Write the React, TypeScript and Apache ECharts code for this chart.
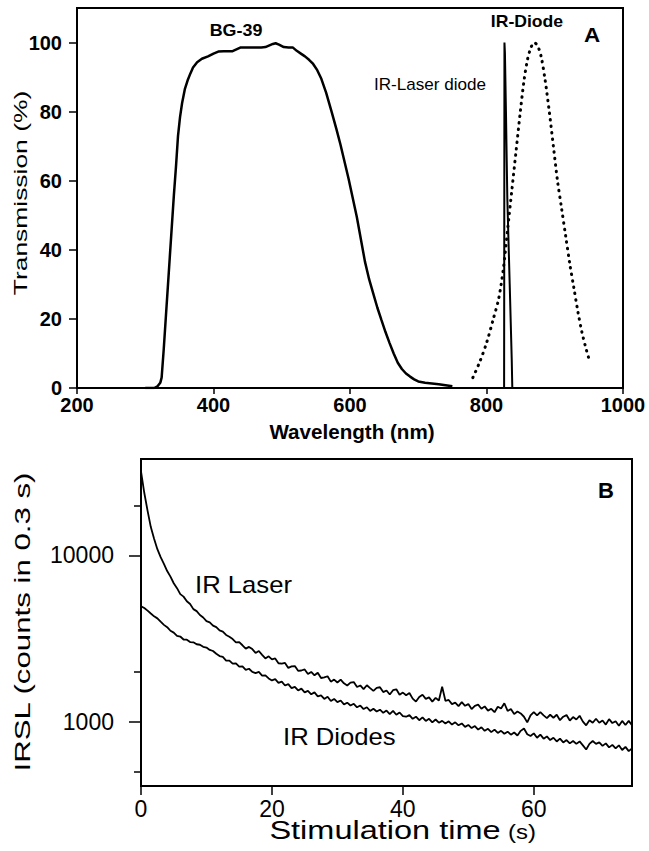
import React, { useEffect, useRef } from 'react';
import * as echarts from 'echarts';

const FONT = '"Liberation Sans", Arial, Helvetica, sans-serif';

// ---------- Panel A: transmission spectra ----------
const wlTicks = [200, 400, 600, 800, 1000];
const transTicks = [0, 20, 40, 60, 80, 100];

const bgWl = [300, 313, 318, 322, 324, 327, 330, 333, 336, 339, 342, 345, 348, 351, 354, 358, 362, 366, 370, 376, 383, 392, 400, 407, 415, 428, 440, 450, 460, 470, 476, 482, 487, 491, 496, 503, 510, 516, 522, 528, 534, 540, 546, 552, 558, 565, 573, 580, 586, 592, 598, 604, 610, 616, 622, 628, 634, 640, 646, 652, 658, 664, 670, 676, 682, 688, 694, 700, 710, 720, 730, 740, 750];
const bgT = [0, 0, 0.5, 1.5, 3, 11, 20, 29, 38, 47, 56, 64, 73, 78.5, 82.5, 86.5, 89, 91, 92.8, 94.3, 95.3, 96, 96.8, 97.4, 97.5, 97.5, 98.6, 98.6, 98.6, 98.6, 98.7, 99.2, 99.6, 99.8, 99.4, 98.7, 98.6, 98.6, 97.6, 96.8, 96, 95, 93.8, 92, 89.5, 85.5, 80, 75, 70.5, 65.5, 60.5, 55, 49.5, 43, 36.5, 31.5, 27.4, 23.3, 19.7, 16.2, 13, 10, 7.3, 5.5, 4.2, 3.3, 2.5, 1.9, 1.5, 1.3, 1.1, 0.8, 0.5];

const laserWl = [825.8, 826.3, 827, 828.5, 830.5, 834, 837, 837.8];
const laserT = [0, 100, 97, 80, 55, 30, 8, 0];

const ledWl = [780, 790, 800, 810, 818, 825, 831, 837, 843, 849, 855, 860, 865, 870, 875, 880, 886, 892, 898, 904, 910, 916, 922, 928, 934, 940, 945, 950];
const ledT = [3, 7.5, 13, 20, 26, 35, 46, 57, 68, 79, 89, 95, 98.5, 100, 99, 96, 89, 80, 70, 60, 52, 44, 36, 29, 22, 16, 12, 8.5];

// ---------- Panel B: IRSL decay curves ----------
const timeTicks = [0, 20, 40, 60];
const irslMajor = [1000, 10000];
const irslMinor = [500, 2000, 20000];
const channelStep = 0.5; // s between plotted channels

const irLaserCounts = [
  32000, 23800, 18600, 14800, 12600, 10900, 9750, 8900, 8050, 7450, 6800, 6350, 5850, 5650, 5300, 5100, 4750, 4620, 4380, 4230, 4020, 3950, 3780, 3700, 3540, 3480, 3320, 3240,
  3140, 3000, 3010, 2880, 2750, 2815, 2730, 2590, 2660, 2520, 2400, 2470, 2370, 2400, 2245, 2230, 2255, 2105, 2150, 2160, 2020, 2030, 2060, 1935, 1990, 1900, 1970, 1830, 1845, 1875, 1740, 1790,
  1720, 1790, 1700, 1650, 1715, 1730, 1615, 1650, 1570, 1655, 1590, 1530, 1595, 1610, 1505, 1540, 1455, 1545, 1565, 1450,
  1495, 1440, 1485, 1375, 1320, 1405, 1450, 1370, 1400, 1320, 1390, 1340, 1620, 1335, 1350, 1275, 1300, 1240, 1310, 1245,
  1275, 1190, 1245, 1265, 1195, 1235, 1165, 1195, 1140, 1230, 1200, 1290, 1160, 1190, 1110, 1150, 1120, 1070, 990, 1090,
  1140, 1090, 1140, 1090, 1050, 1100, 1055, 1100, 1020, 1070, 1095, 1015, 1065, 1030, 1085, 1000, 950, 1020, 985, 1040,
  985, 1015, 960, 1035, 980, 1005, 945, 1010, 955, 1010, 950,
];

const irDiodeCounts = [
  4950, 4820, 4650, 4470, 4300, 4180, 3990, 3820, 3700, 3520, 3430, 3280, 3250, 3120, 3110, 3010, 3000, 2920, 2900, 2820,
  2790, 2700, 2660, 2560, 2480, 2450, 2330, 2330, 2230, 2240, 2140, 2150, 2050, 2080, 1990, 1960, 1990, 1890, 1900, 1820,
  1770, 1800, 1710, 1740, 1650, 1680, 1590, 1620, 1540, 1580, 1500, 1530, 1460, 1500, 1420, 1440, 1370, 1410, 1330, 1370,
  1310, 1340, 1270, 1300, 1250, 1280, 1220, 1250, 1190, 1220, 1160, 1195, 1150, 1180, 1130, 1165, 1110, 1160, 1100, 1135,
  1080, 1070, 1095, 1040, 1070, 1020, 1060, 1010, 1040, 990, 1030, 985, 1010, 975, 1005, 960, 990, 950, 975, 930,
  955, 915, 940, 895, 925, 880, 905, 865, 895, 855, 880, 845, 870, 835, 860, 825, 880, 910, 840, 820,
  850, 800, 835, 790, 815, 775, 800, 760, 790, 750, 775, 740, 765, 735, 760, 720, 680, 735, 765, 735,
  750, 715, 740, 700, 725, 690, 720, 675, 705, 665, 690,
];

const pairs = (xs: number[], ys: number[]) => xs.map((x, i) => [x, ys[i]]);
const timed = (ys: number[]) => ys.map((y, i) => [i * channelStep, y]);
const plain = (v: number) => String(Math.round(v));

const txt = (
  text: string,
  x: number,
  y: number,
  size: number,
  opts: { bold?: boolean; sx?: number; rot?: number; align?: string } = {}
) => ({
  type: 'text',
  x,
  y,
  rotation: opts.rot || 0,
  scaleX: opts.sx || 1,
  silent: true,
  style: {
    text,
    fill: '#000',
    font: `${opts.bold ? 'bold ' : ''}${size}px ${FONT}`,
    textAlign: opts.align || 'center',
    textVerticalAlign: 'middle',
    verticalAlign: 'middle',
  },
});

export default function App() {
  const ref = useRef<HTMLDivElement>(null);

  useEffect(() => {
    document.body.style.margin = '0';
    const el = ref.current;
    if (!el) return;
    const chart = echarts.init(el, null, { renderer: 'svg' });

    const axisLine = { onZero: false, lineStyle: { color: '#000', width: 2 } };
    const tickStyle = { color: '#000', width: 1.5 };

    const option: any = {
      animation: false,
      backgroundColor: '#fff',
      grid: [
        { left: 77, top: 8, width: 546, height: 380, show: true, borderColor: '#000', borderWidth: 2, backgroundColor: 'transparent', outerBoundsMode: 'none', containLabel: false },
        { left: 141, top: 459, width: 491, height: 327, show: true, borderColor: '#000', borderWidth: 2, backgroundColor: 'transparent', outerBoundsMode: 'none', containLabel: false },
      ],
      xAxis: [
        {
          gridIndex: 0, type: 'value', min: 200, max: 1000, interval: 200,
          axisLine,
          axisTick: { show: true, length: 6, lineStyle: tickStyle, customValues: wlTicks },
          axisLabel: { customValues: wlTicks, color: '#000', fontFamily: FONT, fontSize: 20, fontWeight: 'bold', margin: 7, formatter: plain },
          splitLine: { show: false },
        },
        {
          gridIndex: 1, type: 'value', min: 0, max: 75,
          axisLine,
          axisTick: { show: true, length: 9, lineStyle: tickStyle, customValues: timeTicks },
          axisLabel: { customValues: timeTicks, color: '#000', fontFamily: FONT, fontSize: 23, margin: 11, formatter: plain },
          splitLine: { show: false },
        },
      ],
      yAxis: [
        {
          gridIndex: 0, type: 'value', min: 0, max: 110,
          axisLine,
          axisTick: { show: true, length: 8, lineStyle: tickStyle, customValues: transTicks },
          axisLabel: { customValues: transTicks, color: '#000', fontFamily: FONT, fontSize: 20, fontWeight: 'bold', margin: 15, formatter: plain },
          splitLine: { show: false },
        },
        {
          gridIndex: 1, type: 'log', logBase: 10, min: 410, max: 38000,
          axisLine,
          axisTick: { show: true, length: 12, lineStyle: tickStyle, customValues: irslMajor },
          axisLabel: { customValues: irslMajor, color: '#000', fontFamily: FONT, fontSize: 23, margin: 27, formatter: plain },
          splitLine: { show: false },
        },
        {
          gridIndex: 1, type: 'log', logBase: 10, min: 410, max: 38000, position: 'left',
          axisLine: { show: false, onZero: false },
          axisTick: { show: true, length: 7, lineStyle: tickStyle, customValues: irslMinor },
          axisLabel: { show: false },
          splitLine: { show: false },
        },
      ],
      series: [
        {
          name: 'BG-39', type: 'line', xAxisIndex: 0, yAxisIndex: 0,
          data: pairs(bgWl, bgT), symbol: 'none', silent: true,
          lineStyle: { color: '#000', width: 2.5 },
        },
        {
          name: 'IR-Laser diode', type: 'line', xAxisIndex: 0, yAxisIndex: 0,
          data: pairs(laserWl, laserT), symbol: 'none', silent: true,
          lineStyle: { color: '#000', width: 2 },
        },
        {
          name: 'IR-Diode', type: 'line', xAxisIndex: 0, yAxisIndex: 0,
          data: pairs(ledWl, ledT), symbol: 'none', silent: true, smooth: 0.3,
          lineStyle: { color: '#000', width: 3, type: [0.5, 6], cap: 'round' },
        },
        {
          name: 'IR Laser', type: 'line', xAxisIndex: 1, yAxisIndex: 1,
          data: timed(irLaserCounts), symbol: 'none', silent: true,
          lineStyle: { color: '#000', width: 1.8 },
        },
        {
          name: 'IR Diodes', type: 'line', xAxisIndex: 1, yAxisIndex: 1,
          data: timed(irDiodeCounts), symbol: 'none', silent: true,
          lineStyle: { color: '#000', width: 1.8 },
        },
      ],
      graphic: [
        txt('Transmission (%)', 20, 193, 19, { rot: Math.PI / 2, sx: 1.39 }),
        txt('Wavelength (nm)', 352, 432, 20, { bold: true, sx: 1.03 }),
        txt('BG-39', 236, 31, 16, { bold: true, sx: 1.12 }),
        txt('IR-Diode', 527, 22, 16, { bold: true, sx: 1.1 }),
        txt('IR-Laser diode', 430, 85, 16, { sx: 1.07 }),
        txt('A', 592, 35, 20, { bold: true, sx: 1.12 }),
        txt('IRSL (counts in 0.3 s)', 23, 622, 22, { rot: Math.PI / 2, sx: 1.42 }),
        txt('Stimulation time', 385, 830, 26, { sx: 1.25 }),
        txt('(s)', 522, 832, 21, { sx: 1.14 }),
        txt('B', 606, 490, 22, { bold: true }),
        txt('IR Laser', 195, 585, 24, { sx: 1.07, align: 'left' }),
        txt('IR Diodes', 283, 737, 24, { sx: 1.07, align: 'left' }),
      ],
    };

    chart.setOption(option);
    return () => chart.dispose();
  }, []);

  return (
    <div
      ref={ref}
      style={{ position: 'absolute', left: 0, top: 0, width: 649, height: 851, background: '#fff' }}
    />
  );
}
